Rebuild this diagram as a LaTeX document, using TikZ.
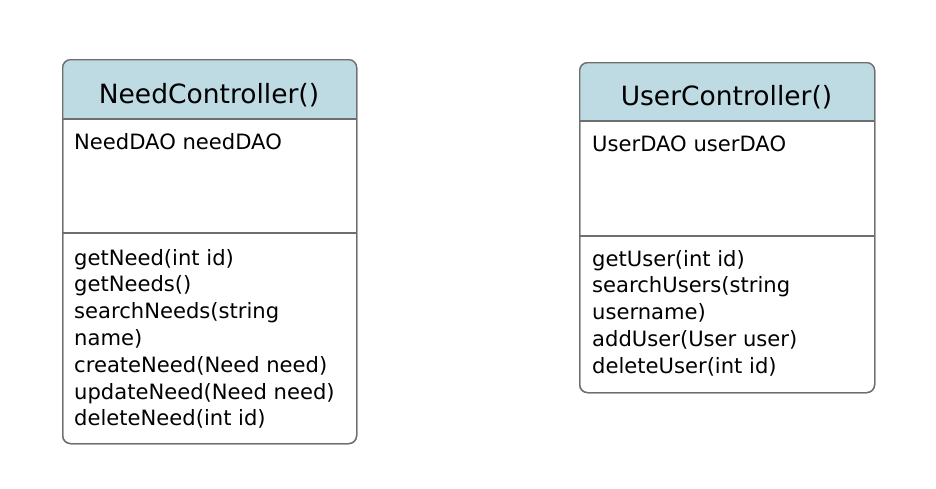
\documentclass[tikz,border=0pt]{standalone}
\usepackage{fontspec}
\setmainfont{DejaVu Sans}
\definecolor{hdrblue}{RGB}{190,219,228}
\definecolor{edgegrey}{RGB}{110,110,110}
\tikzset{
  classbox/.style={draw=edgegrey, line width=1.3pt, rounded corners=8pt, rectangle, inner sep=0pt, anchor=north west},
  divline/.style={draw=edgegrey, line width=1.3pt},
  hdrtext/.style={anchor=base, inner sep=0pt, font=\fontsize{26.5}{30}\selectfont},
  bodytext/.style={anchor=base west, inner sep=0pt, font=\fontsize{21.1}{26.8}\selectfont},
}
\begin{document}
\begin{tikzpicture}[x=1pt,y=-1pt]
\useasboundingbox (0,0) rectangle (936,488);
% ---- NeedController box
\node[classbox, minimum width=294pt, minimum height=384pt] (need) at (62,59) {};
\begin{scope}
  \clip[rounded corners=8pt] (need.north west) rectangle (need.south east);
  \fill[hdrblue] (need.north west) rectangle (356,119);
\end{scope}
\node[classbox, minimum width=294pt, minimum height=384pt] (needb) at (62,59) {};
\coordinate (nh1) at (62,119); \coordinate (nh2) at (356,119);
\coordinate (nd1) at (62,233); \coordinate (nd2) at (356,233);
\draw[divline] (nh1) -- (nh2);
\draw[divline] (nd1) -- (nd2);
\node[hdrtext] (needtitle) at (209,103) {NeedController()};
\node[bodytext] (needattr) at (74,149) {NeedDAO needDAO};
\node[bodytext] (nm1) at (74,265) {getNeed(int id)};
\node[bodytext] (nm2) at (74,291.8) {getNeeds()};
\node[bodytext] (nm3) at (74,318.6) {searchNeeds(string};
\node[bodytext] (nm4) at (74,345.4) {name)};
\node[bodytext] (nm5) at (74,372.2) {createNeed(Need need)};
\node[bodytext] (nm6) at (74,399) {updateNeed(Need need)};
\node[bodytext] (nm7) at (74,425.8) {deleteNeed(int id)};
% ---- UserController box
\node[classbox, minimum width=295pt, minimum height=330pt] (user) at (579,62) {};
\begin{scope}
  \clip[rounded corners=8pt] (user.north west) rectangle (user.south east);
  \fill[hdrblue] (user.north west) rectangle (874,121);
\end{scope}
\node[classbox, minimum width=295pt, minimum height=330pt] (userb) at (579,62) {};
\coordinate (uh1) at (579,121); \coordinate (uh2) at (874,121);
\coordinate (ud1) at (579,236); \coordinate (ud2) at (874,236);
\draw[divline] (uh1) -- (uh2);
\draw[divline] (ud1) -- (ud2);
\node[hdrtext] (usertitle) at (726.5,105) {UserController()};
\node[bodytext] (userattr) at (592,151) {UserDAO userDAO};
\node[bodytext] (um1) at (592,266) {getUser(int id)};
\node[bodytext] (um2) at (592,292.8) {searchUsers(string};
\node[bodytext] (um3) at (592,319.6) {username)};
\node[bodytext] (um4) at (592,346.4) {addUser(User user)};
\node[bodytext] (um5) at (592,373.2) {deleteUser(int id)};
\end{tikzpicture}
\end{document}
